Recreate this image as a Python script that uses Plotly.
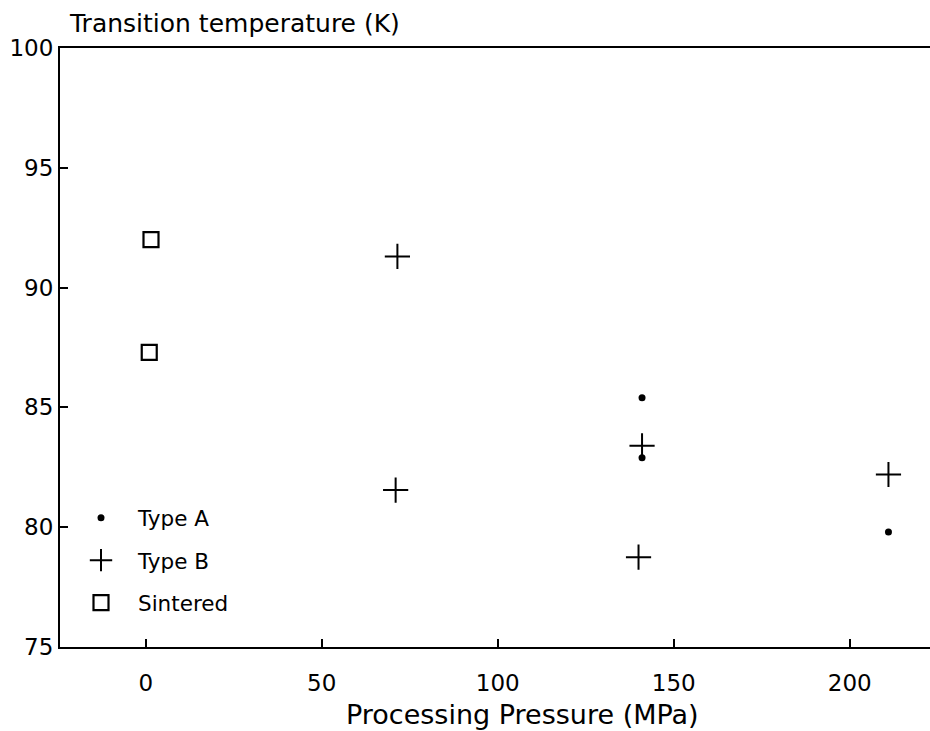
import plotly.graph_objects as go

# Data
type_a_x = [141, 141, 211]
type_a_y = [85.4, 82.9, 79.8]
type_b_x = [71.5, 71, 141, 140, 211]
type_b_y = [91.3, 81.55, 83.4, 78.75, 82.2]
sint_x = [1.5, 1.0]
sint_y = [92.0, 87.3]

x_ticks = [0, 50, 100, 150, 200]
y_ticks = [75, 80, 85, 90, 95, 100]

FONT = "DejaVu Sans"

fig = go.Figure()
fig.add_trace(go.Scatter(x=type_a_x, y=type_a_y, mode="markers", name="Type A",
                         legendgroup="a",
                         marker=dict(symbol="circle", size=7, color="black")))
fig.add_trace(go.Scatter(x=type_b_x, y=type_b_y, mode="markers", name="Type B",
                         legendgroup="b",
                         marker=dict(symbol="cross-thin", size=18, color="black",
                                     line=dict(color="black", width=2))))
fig.add_trace(go.Scatter(x=sint_x, y=sint_y, mode="markers", name="Sintered",
                         legendgroup="c",
                         marker=dict(symbol="square-open", size=15, color="black",
                                     line=dict(color="black", width=2.2))))

fig.update_layout(
    width=930, height=731,
    margin=dict(l=60, r=0, t=48, b=84),
    paper_bgcolor="white", plot_bgcolor="white",
    font=dict(family=FONT, color="black", size=22),
    showlegend=True,
    legend=dict(x=0.0046, y=0.25, xanchor="left", yanchor="top",
                bgcolor="rgba(0,0,0,0)", font=dict(size=21.5, family=FONT),
                traceorder="grouped", tracegroupgap=11.5, itemwidth=64),
    xaxis=dict(range=[-24.35, 222.8], tickvals=x_ticks, ticks="inside",
               ticklen=8, tickwidth=1.5, tickcolor="black",
               showline=True, linecolor="black", linewidth=2, mirror=True,
               showgrid=False, zeroline=False, ticklabelstandoff=14,
               tickfont=dict(size=23, family=FONT)),
    yaxis=dict(range=[75, 100], tickvals=y_ticks, ticks="inside",
               ticklen=8, tickwidth=1.5, tickcolor="black",
               showline=True, linecolor="black", linewidth=2, mirror=False,
               showgrid=False, zeroline=False,
               tickfont=dict(size=23, family=FONT)),
    annotations=[
        dict(text="Transition temperature (K)", xref="paper", yref="paper",
             x=(67 - 60) / 870, y=1, xanchor="left", yanchor="bottom",
             yshift=8, showarrow=False, font=dict(size=25, family=FONT)),
        dict(text="Processing Pressure (MPa)", xref="paper", yref="paper",
             x=(522 - 60) / 870, y=0, xanchor="center", yanchor="top",
             yshift=-50, showarrow=False, font=dict(size=27, family=FONT)),
    ],
)

fig.write_html("out.html")
